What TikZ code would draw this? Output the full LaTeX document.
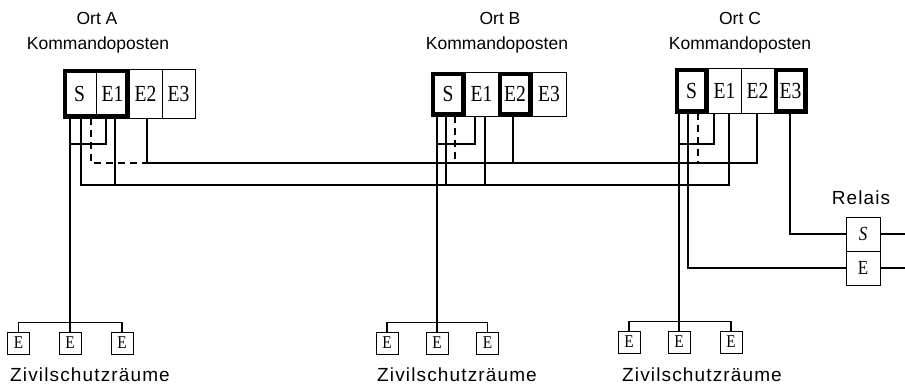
\documentclass[tikz,border=0pt]{standalone}
\usepackage{fontspec}
\setmainfont{Liberation Serif}
\newfontfamily\cellfont[FakeStretch=0.85]{Liberation Serif}
\newfontfamily\lsans{Liberation Sans}
\newfontfamily\lsanswide[LetterSpace=6]{Liberation Sans}
\usetikzlibrary{calc}
\begin{document}
\begin{tikzpicture}[x=1pt,y=-1pt,
  cell/.style={draw, line width=0.9pt, minimum width=33pt, inner sep=0pt, font=\cellfont\fontsize{23}{23}\selectfont},
  ebox/.style={draw, line width=0.9pt, minimum width=22pt, minimum height=22pt, inner sep=0pt, font=\cellfont\fontsize{18}{18}\selectfont},
  rcell/.style={draw, line width=0.9pt, minimum width=34pt, minimum height=34pt, inner sep=0pt, font=\cellfont\fontsize{20}{20}\selectfont},
  heavy/.style={line width=4.5pt},
  ln/.style={line width=1.2pt},
  dsh/.style={line width=1.2pt, dash pattern=on 7pt off 5pt},
  lbl/.style={font=\lsans\fontsize{17.5}{17.5}\selectfont, inner sep=0pt},
  zlbl/.style={font=\lsanswide\fontsize{19}{19}\selectfont, inner sep=0pt}]
\useasboundingbox (0,0) rectangle (905,385);

% ---- Ort A ----
\node[cell, minimum height=49pt] (As)  at (79.5,93.5) {S};
\node[cell, minimum height=49pt] (AE1) at (112.5,93.5) {E1};
\node[cell, minimum height=49pt] (AE2) at (145.5,93.5) {E2};
\node[cell, minimum height=49pt] (AE3) at (178.5,93.5) {E3};
\draw[heavy] ([shift={(2.25,2.25)}]As.north west) rectangle ([shift={(-2.25,-2.25)}]AE1.south east);
\node[lbl] (Aort) at (97,18) {Ort A};
\node[lbl] (Akp) at (98,45) {Kommandoposten};

% ---- Ort B ----
\node[cell, minimum height=44pt, minimum width=34pt] (Bs)  at (448,94) {S};
\node[cell, minimum height=44pt] (BE1) at (481.5,94) {E1};
\node[cell, minimum height=44pt, minimum width=34pt] (BE2) at (515,94) {E2};
\node[cell, minimum height=44pt, minimum width=34pt] (BE3) at (549,94) {E3};
\draw[heavy] ([shift={(2.25,2.25)}]Bs.north west) rectangle ([shift={(-2.25,-2.25)}]Bs.south east);
\draw[heavy] ([shift={(2.25,2.25)}]BE2.north west) rectangle ([shift={(-2.25,-2.25)}]BE2.south east);
\node[lbl] (Bort) at (500,18) {Ort B};
\node[lbl] (Bkp) at (497,45) {Kommandoposten};

% ---- Ort C ----
\node[cell, minimum height=45pt] (Cs)  at (691.5,90.5) {S};
\node[cell, minimum height=45pt] (CE1) at (724.5,90.5) {E1};
\node[cell, minimum height=45pt] (CE2) at (757.5,90.5) {E2};
\node[cell, minimum height=45pt] (CE3) at (790.5,90.5) {E3};
\draw[heavy] ([shift={(2.25,2.25)}]Cs.north west) rectangle ([shift={(-2.25,-2.25)}]Cs.south east);
\draw[heavy] ([shift={(2.25,2.25)}]CE3.north west) rectangle ([shift={(-2.25,-2.25)}]CE3.south east);
\node[lbl] (Cort) at (740,18) {Ort C};
\node[lbl] (Ckp) at (740,45) {Kommandoposten};

% ---- Relais ----
\node[rcell, font=\cellfont\itshape\fontsize{20}{20}\selectfont] (RS) at (863,234) {S};
\node[rcell] (RE) at (863,268) {E};
\node[zlbl] (Rl) at (861,198) {Relais};
\coordinate (RSo) at (905,234);
\coordinate (REo) at (905,268);

% ---- Schutzraeume ----
\node[ebox] (Ash1) at (18.5,343) {E};
\node[ebox] (Ash2) at (70,343) {E};
\node[ebox] (Ash3) at (122,343) {E};
\node[ebox] (Bsh1) at (387,343) {E};
\node[ebox] (Bsh2) at (437,343) {E};
\node[ebox] (Bsh3) at (487.5,343) {E};
\node[ebox] (Csh1) at (629,342) {E};
\node[ebox] (Csh2) at (679,342) {E};
\node[ebox] (Csh3) at (731,342) {E};
\node[zlbl] (Az) at (90,375) {Zivilschutzräume};
\node[zlbl] (Bz) at (457,375) {Zivilschutzräume};
\node[zlbl] (Cz) at (702,375) {Zivilschutzräume};

% ---- pins ----
\coordinate (a1) at ([xshift=-9.5pt]As.south);
\coordinate (a2) at ([xshift=1.5pt]As.south);
\coordinate (a3) at ([xshift=11.5pt]As.south);
\coordinate (a4) at ([xshift=-6.5pt]AE1.south);
\coordinate (a5) at ([xshift=2.5pt]AE1.south);
\coordinate (a6) at ([xshift=1.5pt]AE2.south);
\coordinate (b1) at ([xshift=-11pt]Bs.south);
\coordinate (b2) at ([xshift=-2pt]Bs.south);
\coordinate (b3) at ([xshift=7pt]Bs.south);
\coordinate (b4) at ([xshift=-6.5pt]BE1.south);
\coordinate (b5) at ([xshift=3.5pt]BE1.south);
\coordinate (b6) at ([xshift=-2pt]BE2.south);
\coordinate (c1) at ([xshift=-12.5pt]Cs.south);
\coordinate (c2) at ([xshift=-3.5pt]Cs.south);
\coordinate (c3) at ([xshift=6.5pt]Cs.south);
\coordinate (c4) at ([xshift=-10.5pt]CE1.south);
\coordinate (c5) at ([xshift=4.5pt]CE1.south);
\coordinate (c6) at ([xshift=-0.5pt]CE2.south);
\coordinate (c7) at ([xshift=-0.5pt]CE3.south);
\coordinate (U) at (0,163);
\coordinate (L) at (0,185);
\coordinate (K) at (0,144);

% ---- A lines ----
\draw[ln] (a1) -- (Ash2.north);
\draw[ln] (a4) |- (a1 |- K);
\draw[dsh] (a3) |- (a6 |- U);
\draw[ln] (a6) -- (a6 |- U) -- (c6 |- U) -- (c6);
\draw[ln] (a2) |- (c5 |- L) -- (c5);
\draw[ln] (a5) -- (a5 |- L);
% ---- B lines ----
\draw[ln] (b1) -- (Bsh2.north);
\draw[ln] (b4) |- (b1 |- K);
\draw[ln] (b2) -- (b2 |- L);
\draw[dsh] (b3) -- (b3 |- U);
\draw[ln] (b5) -- (b5 |- L);
\draw[ln] (b6) -- (b6 |- U);
% ---- C lines ----
\draw[ln] (c1) -- (Csh2.north);
\draw[ln] (c4) |- (c1 |- K);
\draw[dsh] (c3) -- (c3 |- U);
\draw[ln] (c2) |- (RE.west);
\draw[ln] (c7) |- (RS.west);
\draw[ln] (RS.east) -- (RSo);
\draw[ln] (RE.east) -- (REo);

% ---- shelter branches ----
\draw[ln] (Ash1.north) -- ++(0,-9) -| (Ash3.north);
\draw[ln] (Bsh1.north) -- ++(0,-9) -| (Bsh3.north);
\draw[ln] (Csh1.north) -- ++(0,-9) -| (Csh3.north);
\end{tikzpicture}
\end{document}
